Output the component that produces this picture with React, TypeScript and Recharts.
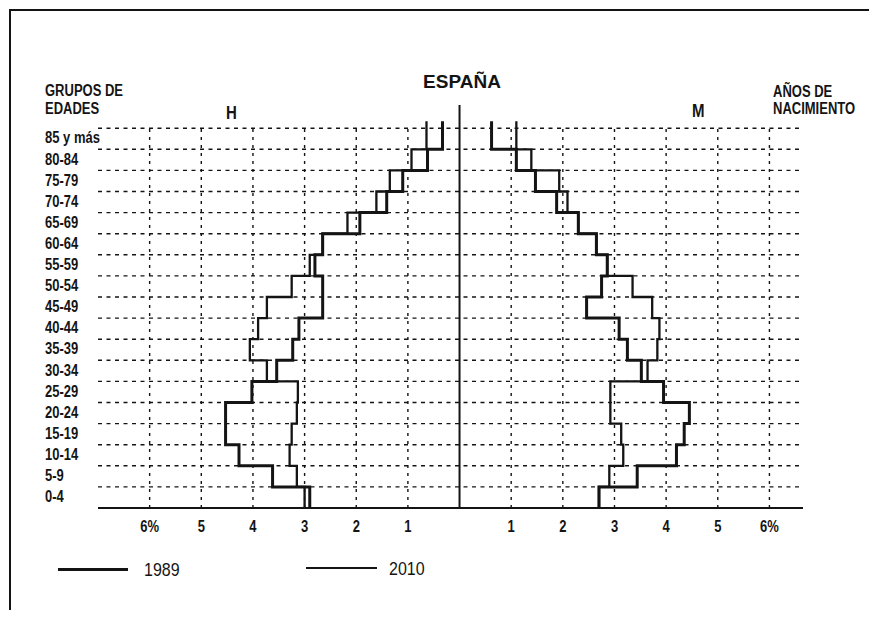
import React from 'react';
import { ScatterChart, Scatter, XAxis, YAxis, ReferenceLine } from 'recharts';

// age groups from the base of the pyramid upwards
const ageGroups = [
  '0-4', '5-9', '10-14', '15-19', '20-24', '25-29', '30-34', '35-39', '40-44',
  '45-49', '50-54', '55-59', '60-64', '65-69', '70-74', '75-79', '80-84', '85 y más',
];
const birthYears = [
  '1985-89', '1980-84', '1975-79', '1970-74', '1965-69', '1960-64', '1955-59', '1950-54', '1945-49',
  '1940-44', '1935-39', '1930-34', '1925-29', '1920-24', '1915-19', '1910-14', '1905-09', '-1904',
];

// % of total population
const men1989 = [2.9, 3.62, 4.27, 4.53, 4.53, 4.02, 3.54, 3.23, 3.11, 2.65, 2.65, 2.8, 2.65, 1.93, 1.41, 1.1, 0.62, 0.33];
const men2010 = [3.0, 3.15, 3.29, 3.25, 3.15, 3.13, 3.73, 4.06, 3.9, 3.73, 3.25, 2.9, 2.65, 2.17, 1.61, 1.35, 0.93, 0.64];
const women1989 = [2.7, 3.44, 4.2, 4.35, 4.45, 3.95, 3.52, 3.25, 3.09, 2.46, 2.75, 2.86, 2.65, 2.3, 1.88, 1.47, 1.1, 0.62];
const women2010 = [2.7, 2.9, 3.17, 3.13, 2.92, 2.92, 3.64, 3.83, 3.87, 3.73, 3.35, 2.86, 2.65, 2.3, 2.09, 1.93, 1.39, 1.1];

const xTicks = [-6, -5, -4, -3, -2, -1, 1, 2, 3, 4, 5, 6];

const bandTicks = ageGroups.map((_, i) => i + 0.5);
const bandEdges = ageGroups.map((_, i) => i + 1);

const INK = '#141414';
const SANS = "'Liberation Sans', Arial, sans-serif";

// outline of a histogram: each group is a vertical stroke, joined by horizontal steps.
// the last group is open-ended so its strokes run a bit past the top edge
const toSteps = (values: number[], side: number) => {
  const pts: { x: number; y: number }[] = [];
  values.forEach((v, i) => {
    const top = i === values.length - 1 ? i + 1.33 : i + 1;
    pts.push({ x: side * v, y: i }, { x: side * v, y: top });
  });
  return pts;
};

// printed in a condensed face: approximate by stretching the text vertically
const TallText = ({ x, y, text, anchor = 'start', size = 13 }: any) => (
  <g transform={`translate(${x}, ${y}) scale(1, 1.2)`}>
    <text x={0} y={0} dy={size * 0.3} fontSize={size} fontWeight="bold" fill={INK} fontFamily={SANS} textAnchor={anchor}>
      {text}
    </text>
  </g>
);

const AgeTick = (props: any) => <TallText x={45} y={props.y} text={ageGroups[Math.floor(props.payload.value)]} />;

const YearTick = (props: any) => (
  <TallText x={855} y={props.y} anchor="end" text={birthYears[Math.floor(props.payload.value)]} />
);

const PctTick = (props: any) => {
  const v = Math.abs(props.payload.value);
  return <TallText x={props.x} y={527} anchor="middle" text={`${v}${v === 6 ? '%' : ''}`} />;
};

const label = (text: string, left: number, cy: number, size: number, extra: React.CSSProperties = {}) => (
  <div
    style={{
      position: 'absolute',
      left,
      top: cy - size * 0.5,
      fontSize: size,
      lineHeight: `${size}px`,
      fontWeight: 'bold',
      fontFamily: SANS,
      color: INK,
      whiteSpace: 'nowrap',
      transform: 'scaleY(1.2)',
      ...extra,
    }}
  >
    {text}
  </div>
);

const App: React.FC = () => {
  const noDot = () => <g />;

  return (
    <div style={{ position: 'relative', width: 877, height: 618, margin: -8, background: '#fff', overflow: 'hidden' }}>
      <div
        style={{
          position: 'absolute',
          left: 9,
          top: 9,
          width: 880,
          height: 620,
          borderTop: `2px solid ${INK}`,
          borderLeft: `2px solid ${INK}`,
        }}
      />

      {label('GRUPOS DE', 45, 90, 13)}
      {label('EDADES', 45, 108, 13)}
      {label('AÑOS DE', 773, 91, 13)}
      {label('NACIMIENTO', 773, 108, 13)}
      {label('H', 226, 112, 15)}
      {label('M', 692, 110, 15)}
      <div
        style={{
          position: 'absolute',
          left: 362,
          width: 200,
          top: 72,
          textAlign: 'center',
          fontSize: 19,
          lineHeight: '19px',
          fontWeight: 'bold',
          fontFamily: SANS,
          color: INK,
        }}
      >
        ESPAÑA
      </div>

      <div style={{ position: 'absolute', top: 0, left: 0 }}>
        <ScatterChart width={877} height={618} margin={{ top: 105, right: 0, bottom: 80, left: 0 }}>
          <XAxis
            type="number"
            dataKey="x"
            domain={[-7, 6.65]}
            ticks={xTicks}
            interval={0}
            tickLine={false}
            axisLine={{ stroke: INK, strokeWidth: 2 }}
            tick={PctTick}
            height={30}
          />
          <YAxis
            yAxisId="age"
            type="number"
            dataKey="y"
            domain={[0, 19.1]}
            ticks={bandTicks}
            interval={0}
            width={98}
            axisLine={false}
            tickLine={false}
            tick={AgeTick}
          />
          <YAxis
            yAxisId="born"
            orientation="right"
            type="number"
            dataKey="y"
            domain={[0, 19.1]}
            ticks={bandTicks}
            interval={0}
            width={74}
            axisLine={false}
            tickLine={false}
            tick={YearTick}
          />

          {bandEdges.map((e) => (
            <ReferenceLine
              key={`h${e}`}
              yAxisId="age"
              y={e}
              stroke={INK}
              strokeWidth={1.4}
              strokeDasharray="4 4.5"
            />
          ))}
          {xTicks.map((t) => (
            <ReferenceLine
              key={`v${t}`}
              yAxisId="age"
              segment={[{ x: t, y: 0 }, { x: t, y: ageGroups.length }]}
              stroke={INK}
              strokeWidth={1.4}
              strokeDasharray="3 5"
            />
          ))}
          <ReferenceLine yAxisId="age" x={0} stroke={INK} strokeWidth={2} />

          <Scatter
            yAxisId="age"
            name="1989"
            data={toSteps(men1989, -1)}
            line={{ stroke: INK, strokeWidth: 3 }}
            shape={noDot}
            isAnimationActive={false}
          />
          <Scatter
            yAxisId="age"
            name="2010"
            data={toSteps(men2010, -1)}
            line={{ stroke: INK, strokeWidth: 2.3 }}
            shape={noDot}
            isAnimationActive={false}
          />
          <Scatter
            yAxisId="age"
            name="1989"
            data={toSteps(women1989, 1)}
            line={{ stroke: INK, strokeWidth: 3 }}
            shape={noDot}
            isAnimationActive={false}
          />
          <Scatter
            yAxisId="age"
            name="2010"
            data={toSteps(women2010, 1)}
            line={{ stroke: INK, strokeWidth: 2.3 }}
            shape={noDot}
            isAnimationActive={false}
          />
        </ScatterChart>
      </div>

      {/* legend */}
      <div style={{ position: 'absolute', left: 58, top: 568, width: 70, height: 3, background: INK }} />
      <div style={{ position: 'absolute', left: 144, top: 562, fontSize: 16, lineHeight: '16px', fontFamily: SANS, color: INK, transform: 'scaleY(1.2)' }}>
        1989
      </div>
      <div style={{ position: 'absolute', left: 306, top: 567, width: 71, height: 2, background: INK }} />
      <div style={{ position: 'absolute', left: 389, top: 561, fontSize: 16, lineHeight: '16px', fontFamily: SANS, color: INK, transform: 'scaleY(1.2)' }}>
        2010
      </div>
    </div>
  );
};

export default App;
